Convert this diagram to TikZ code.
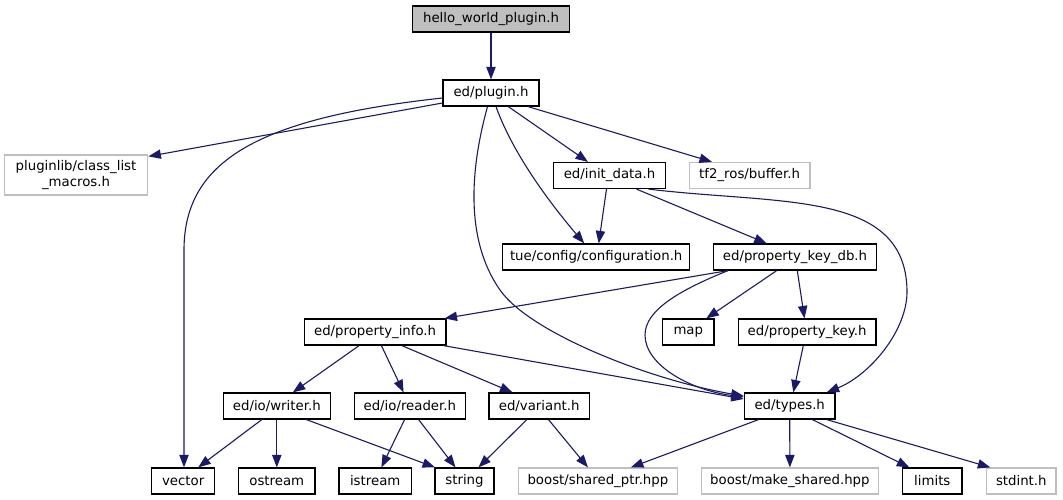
\documentclass[tikz,border=0pt]{standalone}
\usepackage{fontspec}
\setmainfont{DejaVu Sans}
\usetikzlibrary{arrows.meta}
\definecolor{edgec}{HTML}{191970}
\definecolor{greyext}{HTML}{BFBFBF}
\definecolor{greyfill}{HTML}{BFBFBF}
\tikzset{
  box/.style={draw=black, line width=1.2pt, fill=white, inner sep=0pt, minimum height=26pt,
    font=\fontsize{13.3}{15.5}\selectfont, text=black, align=center},
  extbox/.style={box, draw=greyext},
  dep/.style={draw=edgec, line width=1.1pt, -{Triangle[length=12.5pt,width=9.3pt]}}
}
\begin{document}
\begin{tikzpicture}[x=1pt,y=-1pt]
\useasboundingbox (0,0) rectangle (1063,500);
% nodes
\node[box, fill=greyfill, minimum width=157pt] (hello) at (491,19) {hello\_world\_plugin.h};
\node[box, minimum width=96pt] (plugin) at (491,93) {ed/plugin.h};
\node[extbox, minimum width=143.6pt, minimum height=40pt] (cls) at (76,175) {pluginlib/class\_list\\\_macros.h};
\node[box, minimum width=111.3pt] (init) at (609.5,175.5) {ed/init\_data.h};
\node[extbox, minimum width=120.7pt] (tf2) at (749.6,175.5) {tf2\_ros/buffer.h};
\node[box, minimum width=186.7pt] (config) at (596.2,257) {tue/config/configuration.h};
\node[box, minimum width=163.4pt] (pkdb) at (795,257) {ed/property\_key\_db.h};
\node[box, minimum width=141.7pt] (pinfo) at (375.1,332) {ed/property\_info.h};
\node[box, minimum width=51.3pt] (map) at (688.3,332) {map};
\node[box, minimum width=137.7pt] (pkey) at (807.1,332) {ed/property\_key.h};
\node[box, minimum width=107.2pt] (writer) at (276.8,406) {ed/io/writer.h};
\node[box, minimum width=111.1pt] (reader) at (409.8,406) {ed/io/reader.h};
\node[box, minimum width=100.5pt] (variant) at (539.2,406) {ed/variant.h};
\node[box, minimum width=90.7pt] (types) at (789.7,406) {ed/types.h};
\node[box, minimum width=62.8pt] (vector) at (183.2,481) {vector};
\node[box, minimum width=76.4pt] (ostream) at (276.8,481) {ostream};
\node[box, minimum width=72.5pt] (istream) at (375.2,481) {istream};
\node[box, minimum width=58.9pt] (string) at (464.5,481) {string};
\node[extbox, minimum width=159.1pt] (sptr) at (597.9,481) {boost/shared\_ptr.hpp};
\node[extbox, minimum width=177.4pt] (mshared) at (789.9,481) {boost/make\_shared.hpp};
\node[box, minimum width=59.3pt] (limits) at (932.3,481) {limits};
\node[extbox, minimum width=69.3pt] (stdint) at (1021.3,481) {stdint.h};
% edges
\draw[dep] (hello.south) -- (plugin.north);
\draw[dep] ([yshift=-10pt]plugin.west) -- ([yshift=-2pt]cls.north east);
\draw[dep] ([yshift=-5pt]plugin.west) .. controls (260,118) and (184,160) .. (184,250) -- ([xshift=0.8pt]vector.north);
\draw[dep] ([xshift=-3.5pt]plugin.south) .. controls (470,170) and (465,240) .. (500,290)
   .. controls (530,333) and (650,380) .. ([yshift=10pt]types.west);
\draw[dep] ([xshift=5pt]plugin.south) .. controls (515,160) and (560,215) .. ([xshift=-12pt]config.north);
\draw[dep] ([xshift=17.3pt]plugin.south) -- ([xshift=-21.5pt]init.north);
\draw[dep] ([xshift=37pt]plugin.south) -- ([xshift=-37.6pt]tf2.north);
\draw[dep] ([xshift=-3pt]init.south) -- ([xshift=2.5pt]config.north);
\draw[dep] ([xshift=27pt]init.south) -- ([xshift=-28.3pt]pkdb.north);
\draw[dep] ([xshift=39pt]init.south) .. controls (780,205) and (905,190) .. (907,290)
   .. controls (908,330) and (870,375) .. ([xshift=37pt]types.north);
\draw[dep] ([xshift=-67pt]pkdb.south) -- ([xshift=-2pt]pinfo.north east);
\draw[dep] ([xshift=-67pt]pkdb.south) .. controls (680,290) and (645,310) .. (645,335)
   .. controls (645,365) and (690,390) .. ([yshift=9pt]types.west);
\draw[dep] ([xshift=-18.3pt]pkdb.south) -- ([xshift=18pt]map.north);
\draw[dep] ([xshift=2.3pt]pkdb.south) -- ([xshift=-2.6pt]pkey.north);
\draw[dep] ([xshift=-3.8pt]pkey.south) -- ([xshift=3.6pt]types.north);
\draw[dep] ([xshift=-3pt]pinfo.south east) -- ([yshift=7pt]types.west);
\draw[dep] ([xshift=-16pt]pinfo.south) -- ([xshift=16pt]writer.north);
\draw[dep] ([xshift=6.3pt]pinfo.south) -- ([xshift=-6.2pt]reader.north);
\draw[dep] ([xshift=26.7pt]pinfo.south) -- ([xshift=-26.7pt]variant.north);
\draw[dep] ([xshift=-15pt]writer.south) -- ([xshift=15pt]vector.north);
\draw[dep] (writer.south) -- (ostream.north);
\draw[dep] ([xshift=29.6pt]writer.south) -- ([xshift=-29.5pt]string.north);
\draw[dep] ([xshift=-5.2pt]reader.south) -- ([xshift=6.2pt]istream.north);
\draw[dep] ([xshift=8.8pt]reader.south) -- ([xshift=-9pt]string.north);
\draw[dep] ([xshift=-12.4pt]variant.south) -- ([xshift=14pt]string.north);
\draw[dep] ([xshift=9.3pt]variant.south) -- ([xshift=-10pt]sptr.north);
\draw[dep] ([xshift=-31.2pt]types.south) -- ([xshift=33pt]sptr.north);
\draw[dep] (types.south) -- (mshared.north);
\draw[dep] ([xshift=22.7pt]types.south) -- ([xshift=-23pt]limits.north);
\draw[dep] ([xshift=37pt]types.south) -- ([xshift=-31pt]stdint.north);
\end{tikzpicture}
\end{document}
